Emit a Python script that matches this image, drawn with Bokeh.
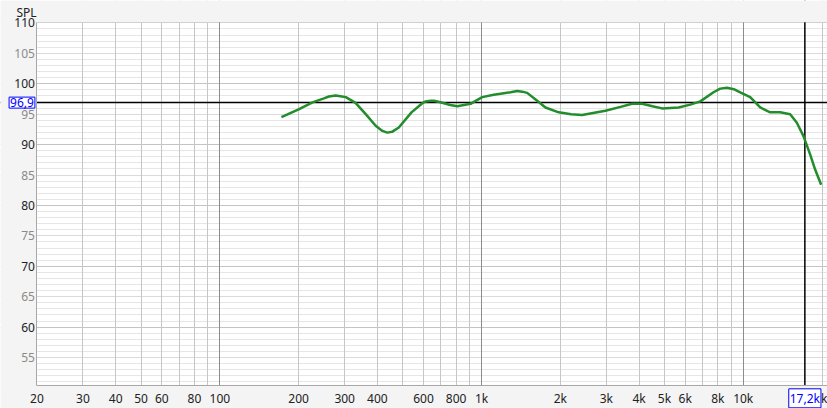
from bokeh.plotting import figure
from bokeh.models import (FixedTicker, Grid, Span, Label, LinearAxis, BoxAnnotation,
                          Range1d, CustomJSTickFormatter)
from bokeh.embed import file_html
from bokeh.resources import INLINE

# ---- data ----
freq = [172, 200, 226, 250, 261, 277, 289, 303, 330, 361, 394, 418, 437, 455, 483, 540,
        594, 612, 640, 658, 697, 760, 808, 908, 1006, 1114, 1217, 1291, 1368, 1432, 1494,
        1632, 1755, 1972, 2200, 2424, 2974, 3400, 3759, 4109, 4500, 4894, 5664, 6276, 6854,
        7700, 8171, 8666, 9205, 9738, 10634, 11611, 12677, 13843, 15117, 16029, 16992,
        18016, 18831, 19850]
spl = [94.5, 95.8, 96.95, 97.6, 97.9, 98.06, 97.95, 97.8, 96.85, 95.0, 93.1, 92.25, 91.97,
       92.1, 92.8, 95.3, 96.8, 97.1, 97.2, 97.2, 96.95, 96.5, 96.3, 96.7, 97.8, 98.2, 98.45,
       98.6, 98.8, 98.7, 98.5, 97.2, 96.1, 95.3, 95.0, 94.86, 95.57, 96.2, 96.7, 96.7, 96.3,
       95.95, 96.1, 96.57, 97.1, 98.6, 99.2, 99.33, 99.1, 98.6, 97.8, 96.1, 95.3, 95.3, 95.0,
       93.6, 91.4, 88.4, 85.9, 83.4]

x_ticks = [20, 30, 40, 50, 60, 80, 100, 200, 300, 400, 600, 800, 1000, 2000, 3000, 4000,
           5000, 6000, 8000, 10000, 20000]
x_tick_labels = ["20", "30", "40", "50", "60", "80", "100", "200", "300", "400", "600",
                 "800", "1k", "2k", "3k", "4k", "5k", "6k", "8k", "10k", "20k"]
x_grid_decades = [100, 1000, 10000]
x_grid_minor = [30, 40, 50, 60, 70, 80, 90, 200, 300, 400, 500, 600, 700, 800, 900,
                2000, 3000, 4000, 5000, 6000, 7000, 8000, 9000, 20000]
y_major = [60, 70, 80, 90, 100, 110]
y_half = [55, 65, 75, 85, 95, 105]
y_minor = [v for v in range(51, 110) if v % 5 != 0]
f_min, spl_min, spl_max = 20, 50.36, 110
cursor_spl = 96.9
cursor_freq = 17200
cursor_spl_text = "96,9"
cursor_freq_text = "17,2k"

FONT = "Noto Sans"
W, H = 827, 408
# layout of the plot area inside the canvas (pixels)
PLOT_LEFT, PLOT_TOP, DECADE_PX, DB_PX = 36.4, 22.4, 261.7, 6.085
x_start = f_min / 10 ** (PLOT_LEFT / DECADE_PX)
x_end = f_min * 10 ** ((W - PLOT_LEFT) / DECADE_PX)
y_end = spl_max + PLOT_TOP / DB_PX
y_start = spl_max - (H - PLOT_TOP) / DB_PX

BG = "#f4f4f4"

p = figure(x_axis_type="log", x_range=Range1d(x_start, x_end), y_range=Range1d(y_start, y_end),
           frame_width=W, frame_height=H,
           min_border_left=0, min_border_right=0, min_border_top=0, min_border_bottom=0,
           toolbar_location=None, output_backend="svg",
           background_fill_color="white", border_fill_color=BG)
p.outline_line_color = None

# grids (horizontal ones first so the vertical lines sit on top)
xg = p.xgrid[0]
xg.ticker = FixedTicker(ticks=x_grid_decades, minor_ticks=x_grid_minor)
xg.grid_line_color = "#8c8c8c"
xg.minor_grid_line_color = "#c6c6c6"

yg = p.ygrid[0]
yg.ticker = FixedTicker(ticks=y_major, minor_ticks=y_minor)
yg.grid_line_color = "#c4c4c4"
yg.minor_grid_line_color = "#e6e6e6"
yh = Grid(dimension=1, ticker=FixedTicker(ticks=y_half), grid_line_color="#dadada")
others = [r for r in p.center if r is not xg and r is not yg]
p.center = [yg, yh, xg] + others

# cursor lines (under the margin covers)
p.add_layout(Span(location=cursor_spl, dimension="width", line_color="black",
                  line_width=1.5, level="underlay"))
p.add_layout(Span(location=cursor_freq, dimension="height", line_color="black",
                  line_width=1.5, level="underlay"))

# gray margins around the plot area
for kw in (dict(right=f_min), dict(top=spl_min), dict(bottom=spl_max + 0.12)):
    p.add_layout(BoxAnnotation(fill_color=BG, fill_alpha=1, line_alpha=0, level="glyph", **kw))


def style_axis(ax, color="#222222"):
    ax.major_tick_out = 0
    ax.major_tick_in = 0
    ax.minor_tick_out = 0
    ax.minor_tick_in = 0
    ax.major_label_text_font = FONT
    ax.major_label_text_font_size = "12px"
    ax.major_label_text_color = color


# x axis
xa = p.xaxis[0]
style_axis(xa)
xa.fixed_location = spl_min
xa.bounds = (f_min, x_end)
xa.axis_line_color = "#a8a8a8"
xa.ticker = FixedTicker(ticks=x_ticks)
xa.formatter = CustomJSTickFormatter(
    args=dict(xt=x_ticks, xl=x_tick_labels),
    code="const i = xt.findIndex(t => Math.abs(t - tick) < 1e-6 * t); return i >= 0 ? xl[i] : '';")
xa.major_label_standoff = 4

# y axis: gray half-decade labels
ya = p.yaxis[0]
style_axis(ya, "#8a8a8a")
ya.fixed_location = f_min
ya.bounds = (spl_min, spl_max)
ya.axis_line_color = "#a8a8a8"
ya.ticker = FixedTicker(ticks=y_half)
ya.major_label_standoff = 2

# y axis: dark decade labels at the same place
yb = LinearAxis(ticker=FixedTicker(ticks=y_major), fixed_location=f_min,
                bounds=(spl_min, spl_max))
style_axis(yb)
yb.axis_line_color = None
yb.major_label_standoff = 2
p.add_layout(yb, "left")

# curve
p.line(freq, spl, line_color="#238c2c", line_width=2.5)

# texts
p.add_layout(Label(x=16, y=H - 3, x_units="screen", y_units="screen", text="SPL",
                   text_font=FONT, text_font_size="12px", text_color="#222222",
                   text_baseline="top", text_align="left"))
p.add_layout(Label(x=f_min, y=cursor_spl, x_offset=-2, text=cursor_spl_text,
                   text_font=FONT, text_font_size="12px", text_color="#0000ff",
                   text_align="right", text_baseline="middle",
                   border_line_color="#0000ff", background_fill_color="white", padding=1))
p.add_layout(Label(x=cursor_freq, y=spl_min, y_offset=-3, text=cursor_freq_text,
                   text_font=FONT, text_font_size="12px", text_color="#0000ff",
                   text_align="center", text_baseline="top",
                   border_line_color="#0000ff", background_fill_color="white", padding=1))

open("out.html", "w").write(file_html(p, INLINE))
